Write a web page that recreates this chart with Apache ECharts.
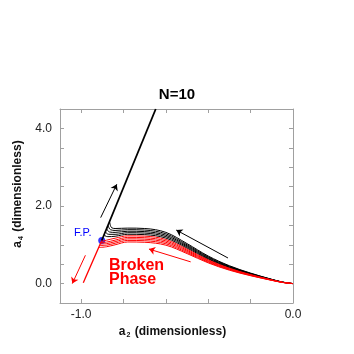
<!DOCTYPE html>
<html>
<head>
<meta charset="utf-8">
<script src="https://cdn.jsdelivr.net/npm/echarts@6/dist/echarts.min.js"></script>
<style>
  html, body { margin: 0; padding: 0; background: #fff; }
  #chart { width: 354px; height: 354px; }
</style>
</head>
<body>
<div id="chart"></div>
<script>
// flow lines in the (a2, a4) plane
const blackFlows = [
  [[0,0],[-0.05,0.04],[-0.1,0.11],[-0.2,0.27],[-0.3,0.46],[-0.4,0.71],[-0.5,1.03],[-0.6,1.32],[-0.7,1.42],[-0.78,1.43],[-0.84,1.42],[-0.856,1.44],[-0.862,1.5],[-0.866,1.6]],
  [[0,0],[-0.05,0.039],[-0.1,0.107],[-0.2,0.262],[-0.3,0.447],[-0.4,0.69],[-0.5,1.0],[-0.6,1.283],[-0.7,1.38],[-0.78,1.39],[-0.84,1.37],[-0.862,1.39],[-0.869,1.44],[-0.873,1.5]],
  [[0,0],[-0.05,0.038],[-0.1,0.104],[-0.2,0.255],[-0.3,0.434],[-0.4,0.67],[-0.5,0.972],[-0.6,1.246],[-0.7,1.34],[-0.78,1.35],[-0.84,1.32],[-0.866,1.33],[-0.875,1.37],[-0.879,1.42]],
  [[0,0],[-0.05,0.037],[-0.1,0.101],[-0.2,0.248],[-0.3,0.422],[-0.4,0.651],[-0.5,0.945],[-0.6,1.21],[-0.7,1.302],[-0.78,1.311],[-0.84,1.27],[-0.87,1.27],[-0.881,1.3],[-0.885,1.34]],
  [[0,0],[-0.05,0.036],[-0.1,0.098],[-0.2,0.24],[-0.3,0.409],[-0.4,0.631],[-0.5,0.916],[-0.6,1.173],[-0.7,1.262],[-0.78,1.271],[-0.84,1.22],[-0.874,1.21],[-0.887,1.23],[-0.891,1.26]]
]
const redFlows = [
  [[0,0],[-0.05,0.034],[-0.1,0.095],[-0.2,0.232],[-0.3,0.396],[-0.4,0.611],[-0.5,0.887],[-0.6,1.137],[-0.7,1.223],[-0.78,1.231],[-0.84,1.17],[-0.88,1.12],[-0.905,1.09]],
  [[0,0],[-0.05,0.033],[-0.1,0.092],[-0.2,0.225],[-0.3,0.383],[-0.4,0.591],[-0.5,0.858],[-0.6,1.1],[-0.7,1.183],[-0.78,1.191],[-0.84,1.12],[-0.88,1.07],[-0.907,1.06]],
  [[0,0],[-0.05,0.032],[-0.1,0.089],[-0.2,0.218],[-0.3,0.371],[-0.4,0.572],[-0.5,0.83],[-0.6,1.064],[-0.7,1.145],[-0.78,1.153],[-0.84,1.08],[-0.88,1.03],[-0.91,1.02]],
  [[0,0],[-0.05,0.031],[-0.1,0.086],[-0.2,0.21],[-0.3,0.358],[-0.4,0.552],[-0.5,0.801],[-0.6,1.027],[-0.7,1.105],[-0.78,1.113],[-0.84,1.04],[-0.88,0.99],[-0.913,0.98]],
  [[0,0],[-0.05,0.03],[-0.1,0.083],[-0.2,0.203],[-0.3,0.345],[-0.4,0.533],[-0.5,0.773],[-0.6,0.99],[-0.7,1.065],[-0.78,1.073],[-0.84,1.0],[-0.88,0.95],[-0.917,0.93]]
]
const fixedPoint = [-0.903, 1.11]
const upperBranch = [[-0.903, 1.11], [-0.648, 4.5]]
const lowerBranch = [[-0.903, 1.11], [-0.99, 0.02]]
const blackArrows = [
  [[-0.908, 1.70], [-0.832, 2.56]],
  [[-0.307, 0.66], [-0.551, 1.38]]
]
const redArrows = [
  [[-0.483, 0.56], [-0.68, 0.89]],
  [[-0.98, 0.73], [-1.042, 0.0]]
]
const xTicks = [-1.0, -0.8, -0.6, -0.4, -0.2, 0.0]
const xLabels = [-1.0, 0.0]
const yTicks = [0, 0.5, 1, 1.5, 2, 2.5, 3, 3.5, 4]
const yLabels = [0, 2, 4]

const frame = { show: true, onZero: false, lineStyle: { color: '#a0a0a0', width: 1 } }
const tick = (vals) => ({ show: true, inside: true, length: 4, customValues: vals, lineStyle: { color: '#a0a0a0' } })
const fmt = (v) => Number(v).toFixed(1)
const nameRich = {
  b: { fontSize: 12, fontWeight: 'bold', color: '#111', fontFamily: 'Liberation Sans' },
  s: { fontSize: 7, fontWeight: 'bold', color: '#111', fontFamily: 'Liberation Sans', padding: [6, 1, 0, 1] }
}

const chart = echarts.init(document.getElementById('chart'))

const series = []
blackFlows.forEach(d => series.push({
  type: 'line', data: d, smooth: 0.35, showSymbol: false, silent: true,
  lineStyle: { color: '#000', width: 1 }
}))
redFlows.forEach(d => series.push({
  type: 'line', data: d, smooth: 0.35, showSymbol: false, silent: true,
  lineStyle: { color: '#ff0000', width: 1 }
}))
series.push({
  type: 'line', data: lowerBranch, showSymbol: false, silent: true,
  lineStyle: { color: '#ff0000', width: 1.3 }
})
series.push({
  type: 'line', data: upperBranch, showSymbol: false, silent: true,
  lineStyle: { color: '#000', width: 1.8 }
})
series.push({
  type: 'lines', coordinateSystem: 'cartesian2d', silent: true,
  symbol: ['none', 'arrow'], symbolSize: 6,
  lineStyle: { color: '#000', width: 1, opacity: 1 },
  data: blackArrows.map(c => ({ coords: c }))
})
series.push({
  type: 'lines', coordinateSystem: 'cartesian2d', silent: true,
  symbol: ['none', 'arrow'], symbolSize: 6,
  lineStyle: { color: '#ff0000', width: 1, opacity: 1 },
  data: redArrows.map(c => ({ coords: c }))
})
series.push({
  type: 'scatter', data: [fixedPoint], symbolSize: 7, silent: true,
  itemStyle: { color: '#0000ff' }
})

chart.setOption({
  animation: false,
  title: {
    text: 'N=10', left: 'center', top: 82,
    textStyle: { fontSize: 15, fontWeight: 'bold', color: '#000', fontFamily: 'Liberation Sans' }
  },
  grid: { left: 60, right: 61, top: 109, bottom: 51 },
  xAxis: [
    {
      type: 'value', min: -1.1, max: 0, position: 'bottom',
      axisLine: frame, axisTick: tick(xTicks), splitLine: { show: false },
      axisLabel: { customValues: xLabels, formatter: fmt, margin: 6, fontSize: 12, color: '#222', fontFamily: 'Liberation Sans' },
      name: '{b|a}{s|2}{b| (dimensionless)}', nameLocation: 'middle', nameGap: 14,
      nameTextStyle: { rich: nameRich, padding: [0, 8, 0, 0] }
    },
    {
      type: 'value', min: -1.1, max: 0, position: 'top',
      axisLine: frame, axisTick: tick(xTicks), axisLabel: { show: false }, splitLine: { show: false }
    }
  ],
  yAxis: [
    {
      type: 'value', min: -0.5, max: 4.5, position: 'left',
      axisLine: frame, axisTick: tick(yTicks), splitLine: { show: false },
      axisLabel: { customValues: yLabels, formatter: fmt, margin: 8, fontSize: 12, color: '#222', fontFamily: 'Liberation Sans' },
      name: '{b|a}{s|4}{b| (dimensionless)}', nameLocation: 'middle', nameGap: 32, nameRotate: 90,
      nameTextStyle: { rich: nameRich, padding: [0, 0, 0, 24] }
    },
    {
      type: 'value', min: -0.5, max: 4.5, position: 'right',
      axisLine: frame, axisTick: tick(yTicks), axisLabel: { show: false }, splitLine: { show: false }
    }
  ],
  graphic: [
    { type: 'text', left: 74, top: 227, silent: true,
      style: { text: 'F.P.', fill: '#0000ff', fontSize: 11, fontFamily: 'Liberation Sans' } },
    { type: 'text', left: 109, top: 258, silent: true,
      style: { text: 'Broken\nPhase', fill: '#ff0000', fontSize: 16, fontWeight: 'bold', lineHeight: 14, fontFamily: 'Liberation Sans' } }
  ],
  series: series
})
</script>
</body>
</html>
